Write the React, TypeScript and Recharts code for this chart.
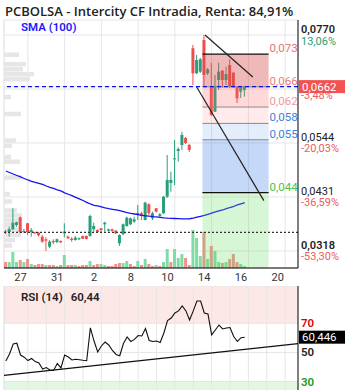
import {
  Bar,
  CartesianGrid,
  Cell,
  ComposedChart,
  Line,
  ReferenceArea,
  ReferenceLine,
  XAxis,
  YAxis,
} from "recharts";

const FONT = "Roboto, 'Noto Sans', sans-serif";
const GREEN = "#26a07a";
const RED = "#f04e4e";
const VOL_GREEN = "#80dca4";
const VOL_RED = "#f39090";

// intraday candles (5 per session)
const opens = [
  0.03588, 0.03578, 0.03634, 0.03724, 0.03885, 0.03578, 0.0376, 0.03578, 0.03571, 0.03563,
  0.03479, 0.03425, 0.0327, 0.03389, 0.03368, 0.03389, 0.0355, 0.03479, 0.03437, 0.0341,
  0.03425, 0.03494, 0.03494, 0.03494, 0.03634, 0.03619, 0.03655, 0.03739, 0.03605, 0.03634,
  0.03605, 0.03341, 0.03529, 0.03703, 0.03739, 0.03793, 0.03933, 0.03969, 0.03829, 0.04157,
  0.03864, 0.04074, 0.03912, 0.03969, 0.04316, 0.04603, 0.05099, 0.05273, 0.05398, 0.05545,
  0.05398, 0.07422, 0.06899, 0.06932, 0.07595, 0.06899, 0.06618, 0.06095, 0.06758, 0.06953,
  0.06758, 0.07072, 0.06911, 0.06618, 0.06514, 0.06549,
];
const highs = [
  0.03619, 0.03688, 0.04074, 0.03793, 0.03898, 0.0364, 0.03766, 0.03661, 0.03584, 0.03578,
  0.03515, 0.03467, 0.0341, 0.03425, 0.03437, 0.034, 0.0376, 0.03504, 0.03467, 0.03494,
  0.03462, 0.035, 0.03504, 0.0394, 0.03772, 0.03634, 0.03661, 0.03793, 0.03647, 0.03647,
  0.03619, 0.03529, 0.03755, 0.03898, 0.03881, 0.03898, 0.04143, 0.04002, 0.04212, 0.04178,
  0.04002, 0.0408, 0.03975, 0.04331, 0.05189, 0.04839, 0.05503, 0.0535, 0.05676, 0.05566,
  0.05419, 0.07491, 0.07282, 0.07219, 0.077, 0.07009, 0.07114, 0.06863, 0.0712, 0.06968,
  0.07037, 0.07192, 0.06926, 0.06633, 0.06633, 0.06633,
];
const lows = [
  0.03536, 0.03479, 0.03619, 0.03688, 0.0355, 0.03557, 0.03515, 0.03479, 0.03536, 0.03479,
  0.03354, 0.0318, 0.03237, 0.0332, 0.03341, 0.03347, 0.03467, 0.03431, 0.03375, 0.03396,
  0.0341, 0.03431, 0.03421, 0.03479, 0.03584, 0.03557, 0.0355, 0.03584, 0.03588, 0.03584,
  0.03536, 0.03285, 0.03515, 0.03688, 0.03724, 0.03772, 0.03829, 0.03829, 0.0382, 0.03933,
  0.03829, 0.03986, 0.03891, 0.03954, 0.04289, 0.04421, 0.04561, 0.05049, 0.05294, 0.05419,
  0.05252, 0.06654, 0.06884, 0.06905, 0.06633, 0.06863, 0.06005, 0.06089, 0.06549, 0.06591,
  0.06654, 0.06585, 0.06591, 0.06277, 0.06382, 0.06409,
];
const closes = [
  0.03567, 0.03634, 0.03772, 0.03781, 0.03571, 0.03599, 0.03571, 0.03619, 0.0355, 0.03508,
  0.03375, 0.03396, 0.03375, 0.03362, 0.03425, 0.03362, 0.03584, 0.03446, 0.0341, 0.03458,
  0.03446, 0.03437, 0.03431, 0.03912, 0.03703, 0.03578, 0.03619, 0.03772, 0.03634, 0.03599,
  0.0355, 0.03515, 0.03739, 0.03877, 0.03864, 0.03843, 0.03975, 0.03912, 0.04191, 0.03969,
  0.03969, 0.04002, 0.03948, 0.04316, 0.04666, 0.04666, 0.0512, 0.05314, 0.05607, 0.0544,
  0.05294, 0.06899, 0.07177, 0.07192, 0.06863, 0.06982, 0.06026, 0.06618, 0.06932, 0.06758,
  0.06884, 0.06618, 0.06618, 0.06375, 0.06618, 0.0662,
];
const volumes = [
  60, 60, 160, 60, 80, 60, 90, 40, 30, 40,
  40, 30, 30, 30, 20, 30, 130, 30, 30, 30,
  20, 30, 30, 70, 30, 40, 40, 30, 20, 20,
  40, 50, 50, 70, 40, 20, 70, 30, 90, 40,
  20, 30, 20, 60, 190, 60, 190, 100, 140, 100,
  30, 380, 300, 120, 360, 90, 220, 170, 60, 50,
  60, 90, 140, 60, 40, 20,
];
const sma100 = [
  0.04854, 0.04823, 0.04791, 0.0476, 0.04729, 0.04697, 0.04666, 0.04639, 0.04618, 0.04597,
  0.04572, 0.0454, 0.04513, 0.04488, 0.04461, 0.04436, 0.04398, 0.04367, 0.04337, 0.04304,
  0.04272, 0.04237, 0.04199, 0.04164, 0.04136, 0.04122, 0.04105, 0.04084, 0.04065, 0.04053,
  0.0404, 0.04023, 0.04005, 0.03984, 0.03965, 0.03954, 0.03942, 0.03927, 0.03917, 0.03908,
  0.039, 0.03894, 0.03883, 0.03873, 0.03866, 0.03862, 0.0386, 0.03856, 0.03852, 0.0385,
  0.03855, 0.03866, 0.03887, 0.03906, 0.03923, 0.03948, 0.03973, 0.03996, 0.04017, 0.04038,
  0.04065, 0.0409, 0.04111, 0.04143, 0.04168, 0.04191,
];
const rsi14 = [
  44.1, 48.9, 55.8, 56.3, 48.2, 46.7, 44.4, 45.8, 43.7, 42.7,
  38.6, 39.6, 37.9, 37.6, 42.4, 39.3, 48.2, 46.8, 44.8, 45.3,
  45.0, 44.6, 44.3, 66.8, 57.8, 50.3, 54.4, 57.1, 55.1, 51.3,
  48.6, 47.7, 56.1, 60.6, 57.5, 58.9, 61.6, 61.3, 66.4, 58.2,
  57.5, 57.8, 56.8, 63.3, 71.9, 73.6, 77.1, 78.5, 81.9, 78.5,
  72.3, 78.5, 85.3, 85.3, 77.1, 76.4, 62.0, 65.4, 68.8, 66.1,
  66.8, 67.1, 60.9, 57.5, 60.1, 60.446,
];

const dayTickIdx = [4, 14, 24, 34, 44, 54, 64, 74];
const dayTickLabels = ["27", "31", "2", "8", "10", "14", "16", "20"];
const gridIdx = [6, 16, 26, 36, 46, 56, 66, 76];
const rsiGridIdx = [6, 11, 16, 21, 26, 31, 36, 41, 46, 51, 56, 61, 66, 71, 76];

const priceTicks = [0.0318, 0.0431, 0.0544, 0.0657, 0.077];
const pctLabels = ["-53,30%", "-36,59%", "-20,03%", "-3,48%", "13,06%"];
const rsiTicks = [30, 50, 70];

// volume at price (left profile)
const profilePrices = [
  0.07288, 0.07089, 0.06984, 0.0688, 0.06775, 0.06403, 0.06047, 0.05492, 0.05381, 0.05147,
  0.05049, 0.04718, 0.04373, 0.04216, 0.04028, 0.03923, 0.03818, 0.03724, 0.0362, 0.03515,
  0.0341, 0.03295,
];
const profileVolumes = [15, 22, 19, 30, 26, 7, 17, 12, 8, 7, 16, 18, 6, 8, 13, 18, 15, 13, 18, 17, 11, 8];

const fibHigh = 0.073;
const fibLow = 0.044;
const fibRatios = [0, 0.236, 0.382, 0.5, 0.618, 1];
const fibStart = 53.5;
const fibEnd = 71.5;

const trendUpper = [
  { x: 54.2, y: 0.077 },
  { x: 67.2, y: 0.0682 },
];
const trendLower = [
  { x: 51.9, y: 0.06618 },
  { x: 70.2, y: 0.04233 },
];
const dottedLevel = 0.0357;
const rsiTrend = [
  { x: -0.5, y: 34.2 },
  { x: 79.5, y: 56.0 },
];

const X_DOMAIN: [number, number] = [-0.5, 79.5];
const PRICE_DOMAIN: [number, number] = [0.02824, 0.08014];
const RSI_DOMAIN: [number, number] = [17.3, 95.6];
const PX_PER_SLOT = 3.675;

const FIB_FILLS = [
  { fill: "#d85050", opacity: 0.4 },
  { fill: "#ff6666", opacity: 0.25 },
  { fill: "#ff6666", opacity: 0.13 },
  { fill: "#4a86e8", opacity: 0.15 },
  { fill: "#4a86e8", opacity: 0.32 },
  { fill: "#5ddc5d", opacity: 0.25 },
];
const FIB_TEXT = ["#e57373", "#ef7a7a", "#f19a9a", "#3b82e0", "#3b82e0", "#4cc24c"];

const candles = opens.map((open, i) => ({
  i,
  open,
  high: highs[i],
  low: lows[i],
  close: closes[i],
  volume: volumes[i],
  sma: sma100[i],
  up: i === 0 ? closes[0] >= open : closes[i] > closes[i - 1],
}));
const rsiData = rsi14.map((rsi, i) => ({ i, rsi }));
const fibLevels = fibRatios.map((r) => fibHigh - r * (fibHigh - fibLow));
const fibZones = fibLevels.map((top, k) => ({
  top,
  bottom: k + 1 < fibLevels.length ? fibLevels[k + 1] : PRICE_DOMAIN[0],
}));
const lastClose = closes[closes.length - 1];
const lastRsi = rsi14[rsi14.length - 1];
// the last-price tag is drawn as the final axis tick so it sits over the other labels
const axisTicks = [...priceTicks, lastClose];

const comma = (v: number, digits: number) => v.toFixed(digits).replace(".", ",");
const truncComma = (v: number, digits: number) => {
  const f = Math.pow(10, digits);
  return comma(Math.floor(v * f) / f, digits);
};

function CandleShape(props: any) {
  const { x, y, width, height, payload } = props;
  if (!payload || x == null || y == null) return null;
  const { open, close, high, low } = payload;
  const top = Math.min(y, y + height);
  const h = Math.abs(height);
  const k = high > low ? h / (high - low) : 0;
  const py = (v: number) => top + (high - v) * k;
  const color = close >= open ? GREEN : RED;
  const cx = x + width / 2;
  const bodyTop = py(Math.max(open, close));
  const bodyH = Math.max(1, Math.abs(py(open) - py(close)));
  return (
    <g>
      <line x1={cx} x2={cx} y1={top} y2={top + h} stroke={color} strokeWidth={1} />
      <rect x={x} y={bodyTop} width={width} height={bodyH} fill={color} />
    </g>
  );
}

function DayTick({ x, y, payload }: any) {
  const label = dayTickLabels[dayTickIdx.indexOf(payload.value)];
  return (
    <text x={x} y={y + 9} textAnchor="middle" fontSize={11} fill="#333" fontFamily={FONT}>
      {label}
    </text>
  );
}

function PriceTick({ x, y, payload }: any) {
  if (payload.value === lastClose) {
    return (
      <g fontFamily={FONT}>
        <rect x={x - 2} y={y - 6.5} width={46} height={13} fill="#f25252" />
        <text x={x + 1} y={y + 4} fill="#fff" fontSize={11.5}>
          {comma(lastClose, 4)}
        </text>
      </g>
    );
  }
  const k = priceTicks.indexOf(payload.value);
  const bold = k === 0 || k === priceTicks.length - 1;
  const pct = pctLabels[k] ?? "";
  const hidden = Math.abs(payload.value - lastClose) < 0.001;
  return (
    <g fontFamily={FONT} fontSize={11}>
      {hidden ? null : (
        <text x={x} y={y - 2} fill="#222" fontWeight={bold ? 600 : 400}>
          {comma(payload.value, 4)}
        </text>
      )}
      <text x={x} y={y + 9.5} fill={pct.startsWith("-") ? "#f05a5a" : "#2e9e6b"}>
        {pct}
      </text>
    </g>
  );
}

function RsiTick({ x, y, payload }: any) {
  const v = payload.value;
  const color = v >= 70 ? "#e00000" : v <= 30 ? "#1a9a1a" : "#222";
  return (
    <text x={x} y={y + 4} fill={color} fontSize={11.5} fontWeight={600} fontFamily={FONT}>
      {v}
    </text>
  );
}

function ValueTag({ viewBox, text, fill }: any) {
  if (!viewBox) return null;
  const right = viewBox.x + viewBox.width;
  return (
    <g>
      <rect x={right + 1} y={viewBox.y - 6.5} width={46} height={13} fill={fill} />
      <text x={right + 4} y={viewBox.y + 4} fill="#fff" fontSize={11.5} fontFamily={FONT}>
        {text}
      </text>
    </g>
  );
}

function FibLabel({ viewBox, text, color }: any) {
  if (!viewBox) return null;
  return (
    <text
      x={viewBox.x + viewBox.width + 1}
      y={viewBox.y - 2}
      fill={color}
      fontSize={11.5}
      fontFamily={FONT}
    >
      {text}
    </text>
  );
}

export default function App() {
  return (
    <div
      style={{
        position: "relative",
        width: 353,
        height: 390,
        overflow: "hidden",
        background: "#fff",
        fontFamily: FONT,
      }}
    >
      <style>{`body{margin:0}`}</style>
      <div
        style={{
          position: "absolute",
          left: 5,
          top: 2,
          fontFamily: "'Open Sans', sans-serif",
          fontSize: 13,
          fontWeight: 600,
          color: "#222",
          whiteSpace: "nowrap",
        }}
      >
        PCBOLSA - Intercity CF Intradia, Renta: 84,91%
      </div>

      <div style={{ position: "absolute", left: 0, top: 0 }}>
        <ComposedChart
          width={353}
          height={286}
          data={candles}
          margin={{ top: 20, right: 0, bottom: 0, left: 4 }}
        >
          <CartesianGrid vertical={false} stroke="#e6e6e6" />
          {gridIdx.map((g) => (
            <ReferenceLine key={`g${g}`} x={g} stroke="#e6e6e6" zIndex={-100} />
          ))}
          <ReferenceLine x={X_DOMAIN[0]} stroke="#dcdcdc" zIndex={-100} />
          <XAxis
            dataKey="i"
            type="number"
            domain={X_DOMAIN}
            ticks={dayTickIdx}
            interval={0}
            allowDataOverflow
            height={18}
            tickLine={false}
            tickSize={0}
            tickMargin={4}
            axisLine={{ stroke: "#000" }}
            tick={<DayTick />}
          />
          <XAxis xAxisId="v" dataKey="i" type="number" domain={X_DOMAIN} allowDataOverflow hide />
          <YAxis
            orientation="right"
            domain={PRICE_DOMAIN}
            ticks={axisTicks}
            interval={0}
            allowDataOverflow
            width={55}
            tickLine={false}
            tickSize={0}
            tickMargin={3}
            axisLine={{ stroke: "#000" }}
            tick={<PriceTick />}
          />
          <YAxis yAxisId="vol" domain={[0, 2480]} hide />

          {profilePrices.map((p, k) => (
            <ReferenceArea
              key={`vp${k}`}
              x1={X_DOMAIN[0]}
              x2={X_DOMAIN[0] + profileVolumes[k] / PX_PER_SLOT}
              y1={p - 0.00047}
              y2={p + 0.00047}
              fill="#e6e6e6"
              fillOpacity={1}
              stroke="none"
              zIndex={-50}
            />
          ))}

          <Bar
            xAxisId="v"
            yAxisId="vol"
            dataKey="volume"
            barSize={3}
            isAnimationActive={false}
          >
            {candles.map((c) => (
              <Cell key={`v${c.i}`} fill={c.up ? VOL_GREEN : VOL_RED} />
            ))}
          </Bar>
          <Bar
            dataKey={(d: any) => [d.low, d.high]}
            barSize={3}
            shape={CandleShape}
            isAnimationActive={false}
          />
          <Line
            dataKey="sma"
            stroke="#1414f0"
            strokeWidth={1.3}
            dot={false}
            isAnimationActive={false}
          />

          {fibZones.map((z, k) => (
            <ReferenceArea
              key={`fz${k}`}
              x1={fibStart}
              x2={fibEnd}
              y1={z.bottom}
              y2={z.top}
              fill={FIB_FILLS[k].fill}
              fillOpacity={FIB_FILLS[k].opacity}
              stroke="none"
              zIndex={450}
            />
          ))}
          {fibLevels.map((lv, k) => (
            <ReferenceLine
              key={`fl${k}`}
              segment={[
                { x: fibStart, y: lv },
                { x: fibEnd, y: lv },
              ]}
              stroke={k === 0 || k === fibLevels.length - 1 ? "#111" : "#8a8a8a"}
              strokeWidth={k === 0 || k === fibLevels.length - 1 ? 1.3 : 1}
              zIndex={460}
              label={<FibLabel text={comma(lv, 3)} color={FIB_TEXT[k]} />}
            />
          ))}
          <ReferenceLine segment={trendUpper} stroke="#222" strokeWidth={1.2} zIndex={460} />
          <ReferenceLine segment={trendLower} stroke="#222" strokeWidth={1.2} zIndex={460} />
          <ReferenceLine
            y={dottedLevel}
            stroke="#333"
            strokeDasharray="2 2"
            strokeWidth={1.2}
            zIndex={470}
          />
          <ReferenceLine
            y={lastClose}
            stroke="#1010e8"
            strokeDasharray="4 3"
            strokeWidth={1.2}
            zIndex={470}
          />
        </ComposedChart>
      </div>

      <div
        style={{
          position: "absolute",
          left: 21,
          top: 20,
          fontSize: 11.5,
          fontWeight: 600,
          color: "#1a1aff",
          lineHeight: "14px",
        }}
      >
        SMA (100)
      </div>

      <div style={{ position: "absolute", left: 0, top: 286 }}>
        <ComposedChart
          width={353}
          height={114}
          data={rsiData}
          margin={{ top: 0, right: 0, bottom: 0, left: 4 }}
        >
          <ReferenceArea
            y1={70}
            y2={RSI_DOMAIN[1]}
            fill="#fde8e8"
            fillOpacity={1}
            stroke="none"
            zIndex={-120}
          />
          <ReferenceArea
            y1={RSI_DOMAIN[0]}
            y2={30}
            fill="#e3f7e3"
            fillOpacity={1}
            stroke="none"
            zIndex={-120}
          />
          <CartesianGrid vertical={false} stroke="#e4e4e4" />
          {rsiGridIdx.map((g) => (
            <ReferenceLine key={`rg${g}`} x={g} stroke="#e6e6e6" zIndex={-100} />
          ))}
          <ReferenceLine x={X_DOMAIN[0]} stroke="#dcdcdc" zIndex={-100} />
          <XAxis dataKey="i" type="number" domain={X_DOMAIN} allowDataOverflow hide />
          <YAxis
            orientation="right"
            domain={RSI_DOMAIN}
            ticks={rsiTicks}
            interval={0}
            allowDataOverflow
            width={55}
            tickLine={false}
            tickSize={0}
            tickMargin={3}
            axisLine={{ stroke: "#000" }}
            tick={<RsiTick />}
          />
          <Line
            dataKey="rsi"
            stroke="#111"
            strokeWidth={1.1}
            dot={false}
            isAnimationActive={false}
          />
          <ReferenceLine segment={rsiTrend} stroke="#111" strokeWidth={1.1} />
          <ReferenceLine
            y={lastRsi}
            stroke="none"
            label={<ValueTag text={comma(lastRsi, 3)} fill="#000" />}
          />
        </ComposedChart>
      </div>

      <div
        style={{
          position: "absolute",
          left: 21,
          top: 290,
          fontSize: 11.5,
          fontWeight: 600,
          color: "#222",
          whiteSpace: "nowrap",
        }}
      >
        RSI (14)
        <span style={{ marginLeft: 8 }}>{truncComma(lastRsi, 2)}</span>
      </div>
    </div>
  );
}
